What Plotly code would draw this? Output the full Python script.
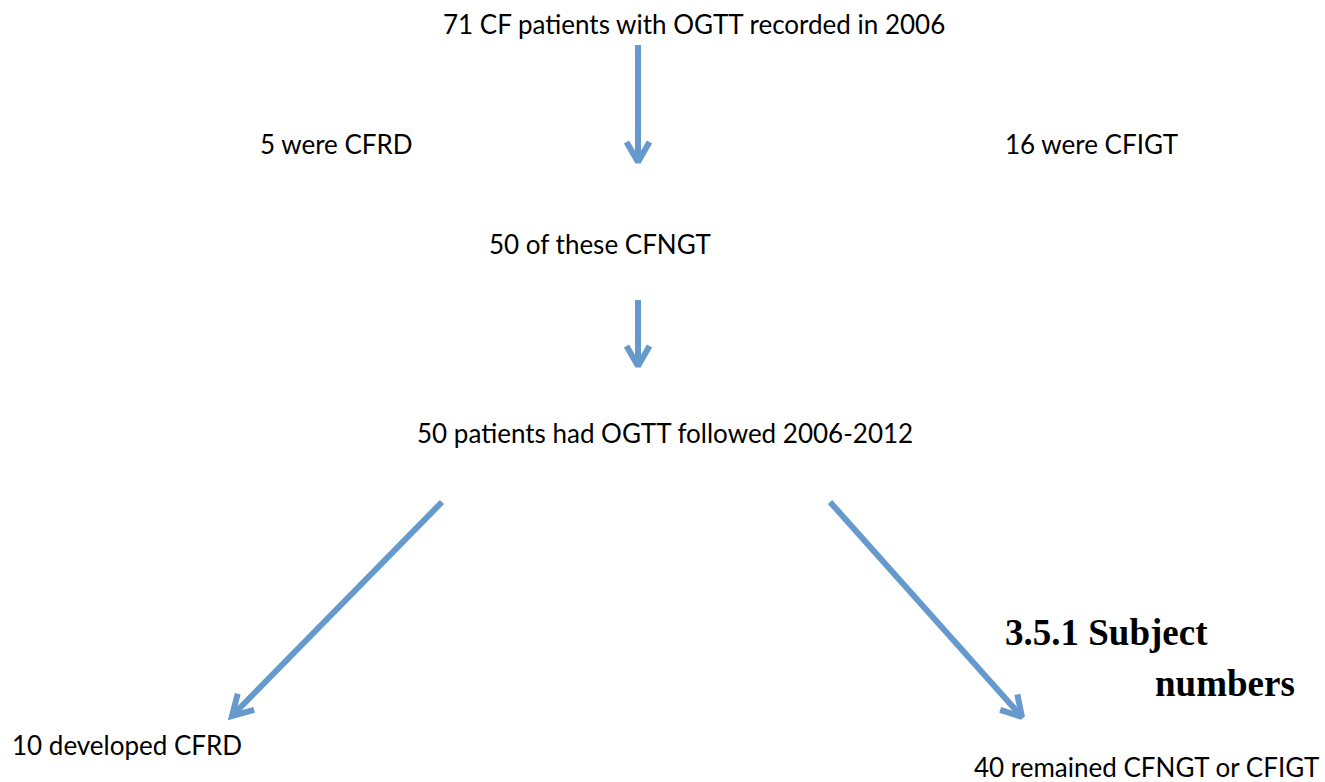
import math
import plotly.graph_objects as go

W, H = 1325, 782

# Flowchart text labels (content)
labels = [
    "71 CF patients with OGTT recorded in 2006",
    "5 were CFRD",
    "16 were CFIGT",
    "50 of these CFNGT",
    "50 patients had OGTT followed 2006-2012",
    "10 developed CFRD",
    "40 remained CFNGT or CFIGT",
]
label_x = [441, 258, 1003, 487, 415, 10, 972]
label_y = [24, 144, 144, 244, 433, 745, 767]

heading_lines = ["3.5.1 Subject", "numbers"]
heading_x = [1003, 1153]
heading_y = [632, 683]

# Arrows: start and tip positions
arrow_x0 = [638, 638, 442, 830]
arrow_y0 = [45, 300, 502, 502]
arrow_x1 = [638, 638, 232, 1022]
arrow_y1 = [162, 366, 716, 717]

ARROW_COLOR = "#6699CC"
TEXT_FONT = "Lato"

fig = go.Figure()

# draw arrows as line traces (shaft + open chevron head)
for x0, y0, x1, y1 in zip(arrow_x0, arrow_y0, arrow_x1, arrow_y1):
    ang = math.atan2(y1 - y0, x1 - x0)
    L = 23
    spread = math.radians(30)
    ax = x1 - L * math.cos(ang - spread)
    ay = y1 - L * math.sin(ang - spread)
    bx = x1 - L * math.cos(ang + spread)
    by = y1 - L * math.sin(ang + spread)
    fig.add_trace(go.Scatter(x=[x0, x1], y=[y0, y1], mode="lines",
                             line=dict(color=ARROW_COLOR, width=6),
                             hoverinfo="skip"))
    fig.add_trace(go.Scatter(x=[ax, x1, bx], y=[ay, y1, by], mode="lines",
                             line=dict(color=ARROW_COLOR, width=6),
                             hoverinfo="skip"))

annotations = []
for t, x, y in zip(labels, label_x, label_y):
    annotations.append(dict(x=x, y=y, text=t, showarrow=False, xanchor="left",
                            yanchor="middle", xref="x", yref="y",
                            font=dict(family=TEXT_FONT, size=26, color="#000000")))
for t, x, y in zip(heading_lines, heading_x, heading_y):
    annotations.append(dict(x=x, y=y, text=f"<b>{t}</b>", showarrow=False, xanchor="left",
                            yanchor="middle", xref="x", yref="y",
                            font=dict(family="Liberation Serif", size=37, color="#000000")))

fig.update_layout(
    width=W, height=H,
    margin=dict(l=0, r=0, t=0, b=0),
    paper_bgcolor="white", plot_bgcolor="white",
    xaxis=dict(range=[0, W], visible=False, fixedrange=True),
    yaxis=dict(range=[H, 0], visible=False, fixedrange=True),
    annotations=annotations, showlegend=False,
)

fig.write_html("out.html", config={"displayModeBar": False},
               post_script="document.body.style.margin='0';document.body.style.overflow='hidden';")
